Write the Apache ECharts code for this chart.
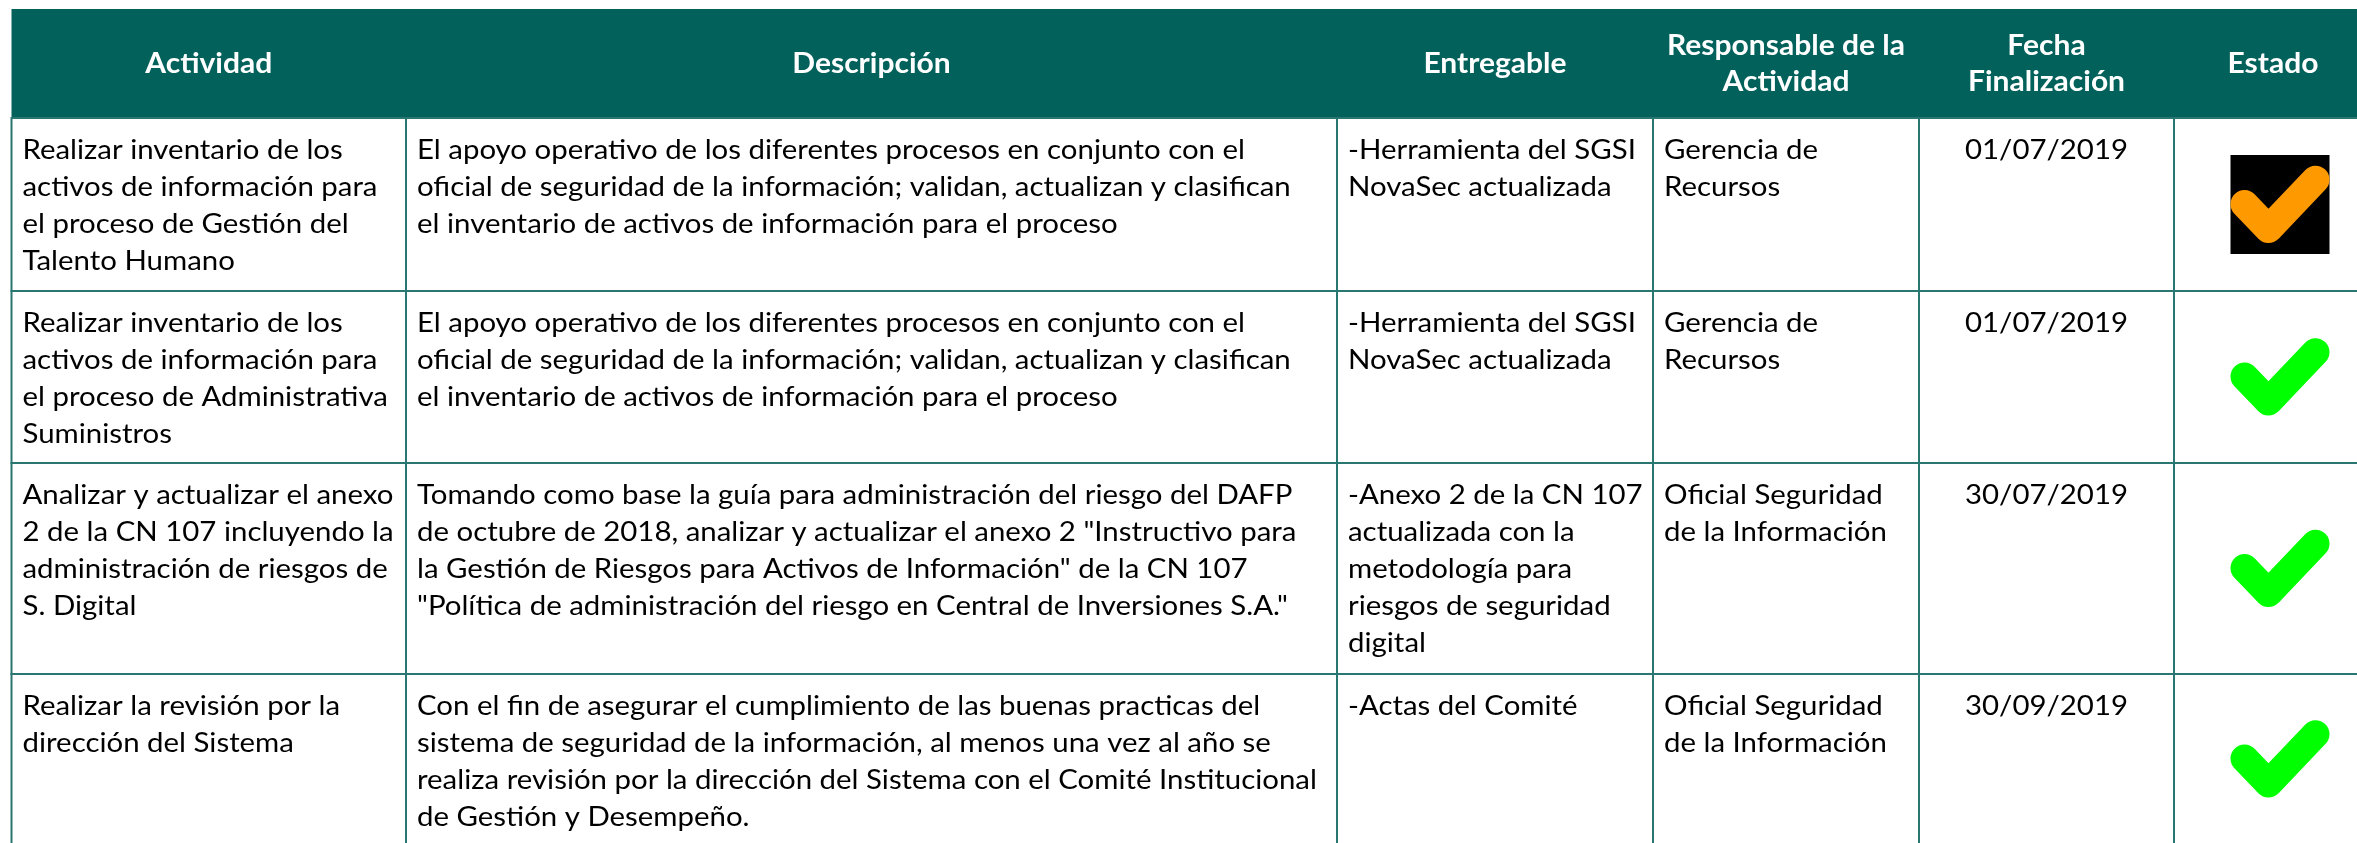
<!DOCTYPE html>
<html><head><meta charset="utf-8">
<script src="https://cdn.jsdelivr.net/npm/echarts@6/dist/echarts.min.js"></script>
<style>html,body{margin:0;padding:0;background:#fff}#c{width:2357px;height:843px}</style>
</head><body><div id="c"></div>
<script>
// ---- content ----
const headers = ['Actividad', 'Descripción', 'Entregable', 'Responsable de la\nActividad', 'Fecha\nFinalización', 'Estado'];
const actividades = [
  'Realizar inventario de los\nactivos de información para\nel proceso de Gestión del\nTalento Humano',
  'Realizar inventario de los\nactivos de información para\nel proceso de Administrativa\nSuministros',
  'Analizar y actualizar el anexo\n2 de la CN 107 incluyendo la\nadministración de riesgos de\nS. Digital',
  'Realizar la revisión por la\ndirección del Sistema'
];
const descripciones = [
  'El apoyo operativo de los diferentes procesos en conjunto con el\noficial de seguridad de la información; validan, actualizan y clasifican\nel inventario de activos de información para el proceso',
  'El apoyo operativo de los diferentes procesos en conjunto con el\noficial de seguridad de la información; validan, actualizan y clasifican\nel inventario de activos de información para el proceso',
  'Tomando como base la guía para administración del riesgo del DAFP\nde octubre de 2018, analizar y actualizar el anexo 2 "Instructivo para\nla Gestión de Riesgos para Activos de Información" de la CN 107\n"Política de administración del riesgo en Central de Inversiones S.A."',
  'Con el fin de asegurar el cumplimiento de las buenas practicas del\nsistema de seguridad de la información, al menos una vez al año se\nrealiza revisión por la dirección del Sistema con el Comité Institucional\nde Gestión y Desempeño.'
];
const entregables = [
  '-Herramienta del SGSI\nNovaSec actualizada',
  '-Herramienta del SGSI\nNovaSec actualizada',
  '-Anexo 2 de la CN 107\nactualizada con la\nmetodología para\nriesgos de seguridad\ndigital',
  '-Actas del Comité'
];
const responsables = [
  'Gerencia de\nRecursos',
  'Gerencia de\nRecursos',
  'Oficial Seguridad\nde la Información',
  'Oficial Seguridad\nde la Información'
];
const fechas = ['01/07/2019', '01/07/2019', '30/07/2019', '30/09/2019'];
const estados = ['enProceso', 'completado', 'completado', 'completado'];

// ---- layout (pixel space of the axes) ----
const colEdges = [11.5, 406, 1337, 1653, 1919, 2174, 2372];
const rowEdges = [9, 118, 291, 463, 674, 844];
const HEADER_BG = '#03615B';
const BORDER = '#2A7671';
const FONT = 'Lato';
const BODY_SIZE = 27, HEAD_SIZE = 28;
const BODY_LH = 37, HEAD_LH = 36;

function measure(text, font) {
  const ctx = document.createElement('canvas').getContext('2d');
  ctx.font = font;
  return ctx.measureText(text).width;
}
const bodyScale = 828 / measure('El apoyo operativo de los diferentes procesos en conjunto con el', BODY_SIZE + 'px ' + FONT);
const headScale = 238 / measure('Responsable de la', 'bold ' + HEAD_SIZE + 'px ' + FONT);

const columns = [actividades, descripciones, entregables, responsables, fechas];
const cells = [];
headers.forEach((h, c) => cells.push({ value: [c, 0], kind: 'head', text: h }));
for (let r = 0; r < actividades.length; r++) {
  columns.forEach((col, c) => cells.push({ value: [c, r + 1], kind: 'body', text: col[r], align: c === 4 ? 'center' : 'left' }));
  cells.push({ value: [5, r + 1], kind: 'estado', estado: estados[r] });
}

const checkPts = [[-35.5, -0.5], [-11.5, 24.5], [35.5, -24.8]];

function renderItem(params, api) {
  const c = api.value(0), r = api.value(1);
  const cell = cells[params.dataIndex];
  const p0 = api.coord([colEdges[c], rowEdges[r]]);
  const p1 = api.coord([colEdges[c + 1], rowEdges[r + 1]]);
  const x0 = p0[0], y0 = p0[1], w = p1[0] - p0[0], h = p1[1] - p0[1];
  const children = [];
  if (cell.kind === 'head') {
    children.push({ type: 'rect', shape: { x: x0, y: y0, width: w + 1, height: h }, style: { fill: HEADER_BG } });
    children.push({
      type: 'text', x: x0 + w / 2, y: y0 + h / 2, scaleX: headScale,
      style: { text: cell.text, fill: '#fff', fontFamily: FONT, fontWeight: 'bold', fontSize: HEAD_SIZE,
        lineHeight: HEAD_LH, textAlign: 'center', textVerticalAlign: 'middle' }
    });
  } else {
    children.push({ type: 'rect', shape: { x: x0, y: y0, width: w, height: h }, style: { fill: '#fff', stroke: BORDER, lineWidth: 2 } });
    if (cell.kind === 'body') {
      const tx = cell.align === 'center' ? x0 + w / 2 : x0 + 11;
      children.push({
        type: 'text', x: tx, y: y0 + 13.5, scaleX: bodyScale,
        style: { text: cell.text, fill: '#000', fontFamily: FONT, fontSize: BODY_SIZE,
          lineHeight: BODY_LH, textAlign: cell.align, textVerticalAlign: 'top' }
      });
    } else {
      const cx = x0 + w / 2 + 7, cy = y0 + h / 2;
      const color = cell.estado === 'completado' ? '#00FF00' : '#FF9900';
      if (cell.estado !== 'completado') {
        children.push({ type: 'rect', shape: { x: cx - 49.5, y: cy - 49.5, width: 99, height: 99 }, style: { fill: '#000' } });
      }
      children.push({
        type: 'polyline', x: cx, y: cy, shape: { points: checkPts },
        style: { fill: null, stroke: color, lineWidth: 28, lineCap: 'round', lineJoin: 'round' }
      });
    }
  }
  return { type: 'group', children };
}

const chart = echarts.init(document.getElementById('c'));
chart.setOption({
  animation: false,
  grid: { left: 0, right: 0, top: 0, bottom: 0 },
  xAxis: { type: 'value', min: 0, max: 2357, show: false },
  yAxis: { type: 'value', min: 0, max: 843, inverse: true, show: false },
  series: [{ type: 'custom', renderItem, data: cells, clip: false, silent: true }]
});
</script></body></html>
